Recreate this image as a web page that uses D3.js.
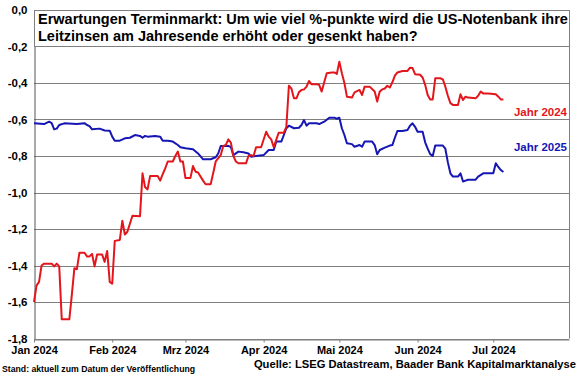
<!DOCTYPE html>
<html><head><meta charset="utf-8">
<script src="https://cdn.jsdelivr.net/npm/d3@7"></script>
<style>
html,body{margin:0;padding:0;background:#fff;}
svg{display:block;font-family:"Liberation Sans",Arial,sans-serif;}
</style></head>
<body>
<svg id="c" width="580" height="375"></svg>
<script>
const titleLines = ["Erwartungen Terminmarkt: Um wie viel %-punkte wird die US-Notenbank ihre",
                    "Leitzinsen am Jahresende erhöht oder gesenkt haben?"];
const seriesNames = ["Jahr 2024", "Jahr 2025"];
const sourceText = "Quelle: LSEG Datastream, Baader Bank Kapitalmarktanalyse";
const noteText = "Stand: aktuell zum Datum der Veröffentlichung";
const yTicks = [0, -0.2, -0.4, -0.6, -0.8, -1.0, -1.2, -1.4, -1.6, -1.8];
const monthTicks = ["2024-01-01","2024-02-01","2024-03-01","2024-04-01","2024-05-01","2024-06-01","2024-07-01"];
const monthLabels = ["Jan 2024","Feb 2024","Mrz 2024","Apr 2024","Mai 2024","Jun 2024","Jul 2024"];

const dates2024 = ["01-01","01-02","01-03","01-04","01-05","01-08","01-09","01-10","01-11","01-12","01-15","01-16","01-17","01-18","01-19","01-21","01-22","01-23","01-24","01-25","01-26","01-28","01-29","01-30","01-31",
"02-01","02-02","02-04","02-05","02-06","02-07","02-09","02-12","02-13","02-14","02-15","02-16","02-19","02-20","02-21","02-22","02-23","02-25","02-26","02-27","02-28","02-29",
"03-01","03-03","03-04","03-05","03-06","03-08","03-09","03-11","03-12","03-13","03-15","03-16","03-17","03-18","03-19","03-20","03-21","03-22","03-25","03-26","03-27","03-28","03-29","03-31",
"04-02","04-03","04-04","04-05","04-06","04-07","04-09","04-10","04-11","04-12","04-13","04-14","04-15","04-16","04-17","04-18","04-19","04-20","04-22","04-23","04-24","04-25","04-26","04-28","04-29","04-30",
"05-01","05-02","05-03","05-04","05-06","05-07","05-09","05-10","05-11","05-13","05-15","05-16","05-17","05-18","05-19","05-20","05-21","05-22","05-23","05-24","05-26","05-28","05-29","05-30","05-31",
"06-02","06-03","06-04","06-05","06-06","06-07","06-08","06-10","06-11","06-12","06-13","06-14","06-15","06-17","06-18","06-19","06-20","06-21","06-24","06-25","06-26","06-27","06-29",
"07-01","07-02","07-03","07-04","07-05"];
const values2024 = [-1.60,-1.51,-1.49,-1.40,-1.39,-1.39,-1.405,-1.39,-1.405,-1.695,-1.695,-1.56,-1.415,-1.42,-1.33,-1.33,-1.35,-1.35,-1.337,-1.405,-1.34,-1.34,-1.38,-1.32,-1.49,
-1.50,-1.265,-1.26,-1.155,-1.23,-1.215,-1.127,-1.13,-0.895,-0.97,-0.983,-0.91,-0.91,-0.935,-0.90,-0.868,-0.83,-0.83,-0.80,-0.776,-0.83,-0.83,
-0.92,-0.92,-0.855,-0.886,-0.89,-0.935,-0.955,-0.955,-0.895,-0.83,-0.795,-0.745,-0.74,-0.709,-0.727,-0.80,-0.83,-0.84,-0.84,-0.80,-0.795,-0.80,-0.752,-0.752,
-0.667,-0.694,-0.709,-0.752,-0.71,-0.672,-0.672,-0.64,-0.415,-0.43,-0.484,-0.484,-0.45,-0.438,-0.435,-0.42,-0.389,-0.407,-0.407,-0.41,-0.447,-0.396,-0.347,-0.342,-0.342,-0.35,
-0.283,-0.347,-0.40,-0.475,-0.48,-0.451,-0.438,-0.466,-0.42,-0.42,-0.447,-0.502,-0.447,-0.435,-0.43,-0.415,-0.425,-0.396,-0.36,-0.342,-0.334,-0.334,-0.316,-0.318,-0.352,
-0.355,-0.37,-0.41,-0.466,-0.49,-0.49,-0.374,-0.374,-0.38,-0.42,-0.47,-0.51,-0.52,-0.52,-0.462,-0.493,-0.475,-0.48,-0.484,-0.47,-0.447,-0.457,-0.457,
-0.46,-0.462,-0.475,-0.49,-0.49];

const dates2025 = ["01-01","01-05","01-07","01-08","01-09","01-10","01-11","01-13","01-18","01-21","01-22","01-23","01-24","01-27","01-29","01-31",
"02-01","02-02","02-04","02-06","02-08","02-10","02-12","02-13","02-14","02-15","02-18","02-20","02-21","02-23","02-25","02-27","02-28",
"03-01","03-04","03-06","03-08","03-11","03-13","03-14","03-15","03-18","03-19","03-20","03-22","03-24","03-26","03-27",
"04-01","04-03","04-05","04-06","04-08","04-09","04-10","04-11","04-13","04-15","04-16","04-17","04-18","04-19","04-22","04-23","04-25","04-27","04-29","04-30",
"05-01","05-02","05-03","05-04","05-06","05-07","05-09","05-10","05-11","05-14","05-15","05-16","05-17","05-19","05-21","05-22","05-23","05-24","05-26","05-28","05-29","05-30","05-31",
"06-01","06-03","06-04","06-05","06-06","06-07","06-08","06-11","06-12","06-13","06-14","06-15","06-17","06-18","06-19","06-20","06-21","06-24","06-25","06-27",
"07-01","07-02","07-03","07-04","07-05"];
const values2025 = [-0.621,-0.625,-0.612,-0.62,-0.654,-0.65,-0.63,-0.621,-0.625,-0.62,-0.63,-0.636,-0.654,-0.65,-0.66,-0.661,
-0.694,-0.716,-0.716,-0.703,-0.70,-0.685,-0.69,-0.70,-0.69,-0.694,-0.69,-0.694,-0.716,-0.716,-0.721,-0.74,-0.752,
-0.758,-0.763,-0.786,-0.818,-0.818,-0.807,-0.786,-0.745,-0.745,-0.75,-0.795,-0.776,-0.78,-0.786,-0.804,
-0.795,-0.767,-0.767,-0.721,-0.721,-0.685,-0.648,-0.634,-0.648,-0.645,-0.63,-0.603,-0.634,-0.621,-0.621,-0.625,-0.612,-0.59,-0.59,-0.596,
-0.59,-0.648,-0.685,-0.73,-0.735,-0.749,-0.74,-0.749,-0.721,-0.721,-0.74,-0.79,-0.767,-0.754,-0.743,-0.74,-0.70,-0.663,-0.663,-0.658,-0.634,-0.621,-0.64,
-0.667,-0.667,-0.725,-0.76,-0.79,-0.80,-0.743,-0.743,-0.76,-0.835,-0.895,-0.913,-0.913,-0.895,-0.94,-0.935,-0.93,-0.93,-0.913,-0.895,
-0.895,-0.84,-0.86,-0.877,-0.888];

const colors = ["#e3161c", "#1616b4"];

const parse = d3.timeParse("%Y-%m-%d");
const svg = d3.select("#c");

const x = d3.scaleTime().domain([parse("2024-01-01"), parse("2024-07-31")]).range([34, 569]);
const y = d3.scaleLinear().domain([-1.8, 0]).range([338.5, 10]);

const fmt = v => (Math.abs(v) < 1e-9 ? "0,0" : d3.format(".1f")(v).replace(".", ",").replace("−", "-"));

// gridlines
svg.append("g").selectAll("line").data(yTicks).join("line")
  .attr("x1", x.range()[0]).attr("x2", x.range()[1])
  .attr("y1", d => Math.round(y(d)) + 0.5).attr("y2", d => Math.round(y(d)) + 0.5)
  .attr("stroke", "#7f7f7f").attr("stroke-width", 1);

// right border
svg.append("line").attr("x1", x.range()[1] + 0.5).attr("x2", x.range()[1] + 0.5)
  .attr("y1", y(0)).attr("y2", y(-1.8)).attr("stroke", "#7f7f7f");

// y axis
const yAxis = d3.axisLeft(y).tickValues(yTicks).tickFormat(fmt).tickSize(0).tickPadding(7);
const gy = svg.append("g").attr("transform", `translate(${x.range()[0] + 0.5},0)`).call(yAxis);
gy.select(".domain").attr("stroke", "#555");
gy.selectAll("text").attr("font-size", 11.5).attr("font-weight", "bold").attr("fill", "#000")
  .attr("font-family", "Liberation Sans, Arial, sans-serif");

// x axis
const xAxis = d3.axisBottom(x).tickValues(monthTicks.map(parse))
  .tickFormat((d, i) => monthLabels[i]).tickSize(3).tickSizeOuter(0).tickPadding(4);
const gx = svg.append("g").attr("transform", `translate(0,${Math.round(y(-1.8)) + 0.5})`).call(xAxis);
gx.select(".domain").attr("stroke", "#7f7f7f");
gx.selectAll(".tick line").attr("stroke", "#7f7f7f");
gx.selectAll("text").attr("font-size", 11).attr("font-weight", "bold").attr("fill", "#000")
  .attr("font-family", "Liberation Sans, Arial, sans-serif");

// lines
const series = [
  {name: seriesNames[0], dates: dates2024, values: values2024, color: colors[0]},
  {name: seriesNames[1], dates: dates2025, values: values2025, color: colors[1]}
];
const line = d3.line().x(d => x(d.date)).y(d => y(d.value)).curve(d3.curveLinear);
series.slice().reverse().forEach(s => {
  const pts = s.dates.map((dt, i) => ({date: parse("2024-" + dt), value: s.values[i]}));
  svg.append("path").datum(pts).attr("d", line)
    .attr("fill", "none").attr("stroke", s.color).attr("stroke-width", 2)
    .attr("stroke-linejoin", "round");
});

// title box
svg.append("rect").attr("x", x.range()[0] + 0.5).attr("y", Math.round(y(0)) + 0.5)
  .attr("width", x.range()[1] - x.range()[0]).attr("height", Math.round(y(-0.2)) - Math.round(y(0)))
  .attr("fill", "#fff").attr("stroke", "#7f7f7f");
svg.append("g").selectAll("text").data(titleLines).join("text")
  .attr("x", 38).attr("y", (d, i) => 24 + i * 17)
  .attr("font-size", 14.5).attr("font-weight", "bold").attr("fill", "#000").text(d => d);

// series labels
svg.append("text").attr("x", 567).attr("y", y(-0.58)).attr("text-anchor", "end")
  .attr("font-size", 11.5).attr("font-weight", "bold").attr("fill", colors[0]).text(seriesNames[0]);
svg.append("text").attr("x", 567).attr("y", y(-0.775)).attr("text-anchor", "end")
  .attr("font-size", 11.5).attr("font-weight", "bold").attr("fill", colors[1]).text(seriesNames[1]);

// footer
svg.append("text").attr("x", 576).attr("y", 368).attr("text-anchor", "end")
  .attr("font-size", 11.2).attr("font-weight", "bold").attr("fill", "#000").text(sourceText);
svg.append("text").attr("x", 2).attr("y", 372)
  .attr("font-size", 8.7).attr("font-weight", "bold").attr("fill", "#000").text(noteText);
</script>
</body></html>
